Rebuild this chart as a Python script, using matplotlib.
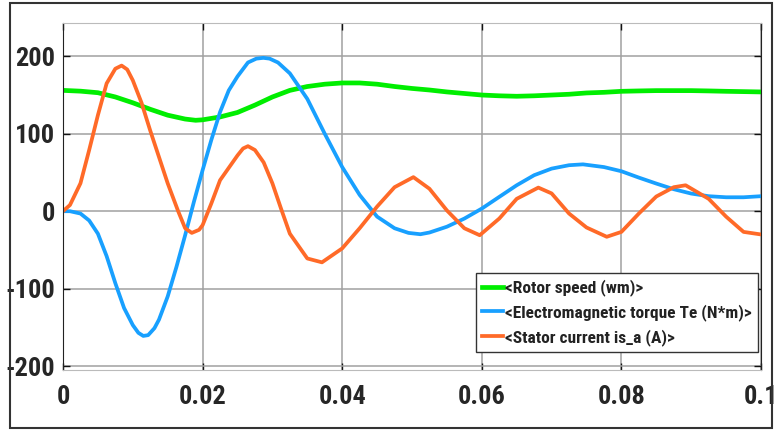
import matplotlib.pyplot as plt
from matplotlib.patches import Rectangle

# values
t_speed = [0, 0.0025, 0.005, 0.0075, 0.01, 0.0125, 0.015, 0.0175, 0.019, 0.02,
           0.0225, 0.025, 0.0275, 0.03, 0.0325, 0.035, 0.0375, 0.04, 0.0425, 0.045,
           0.0475, 0.05, 0.0525, 0.055, 0.0575, 0.06, 0.0625, 0.065, 0.0675, 0.07,
           0.0725, 0.075, 0.0775, 0.08, 0.0825, 0.085, 0.0875, 0.09, 0.0925, 0.095,
           0.0975, 0.1]
speed = [156, 155, 153, 147.5, 140, 131.6, 124, 119, 117.4, 118,
         121.7, 127.5, 137, 147.5, 156, 161, 164, 165.6, 165.6, 164,
         161, 158.5, 156.5, 154, 152, 150, 149, 148.4, 149, 150,
         151, 152.7, 153.5, 154.8, 155.3, 155.7, 155.7, 155.7, 155.3, 154.8,
         154.4, 154]

t_torque = [0, 0.001, 0.0025, 0.00375, 0.005, 0.00625, 0.0075, 0.00875, 0.01, 0.0108,
            0.0115, 0.0122, 0.0131, 0.01375, 0.015, 0.01625, 0.0175, 0.01875, 0.02, 0.02125,
            0.0225, 0.02375, 0.025, 0.0265, 0.0277, 0.0287, 0.0296, 0.0308, 0.0325, 0.035,
            0.0375, 0.04, 0.0425, 0.045, 0.0475, 0.0495, 0.0512, 0.0525, 0.055, 0.0575,
            0.06, 0.0625, 0.065, 0.0675, 0.07, 0.0725, 0.0745, 0.0775, 0.08, 0.0825,
            0.085, 0.0875, 0.09, 0.0925, 0.095, 0.0975, 0.1]
torque = [0, 0, -3, -12, -29, -58, -93, -125, -147, -157,
          -161, -160, -151, -140, -110, -72, -31, 12, 53, 92,
          128, 156, 174, 192, 197, 198, 197, 192, 178, 145,
          100, 57, 21, -7, -22, -28, -29.7, -27.5, -20, -9.5,
          3.4, 18.5, 33.5, 46.5, 55, 59.4, 60.5, 57, 51.6, 43.4,
          35.7, 28.4, 22.8, 19.4, 18, 18, 19.4]

t_current = [0, 0.001, 0.0025, 0.00375, 0.005, 0.00625, 0.0075, 0.0084, 0.0092, 0.01,
             0.01125, 0.0125, 0.01375, 0.015, 0.0165, 0.0175, 0.01845, 0.0195, 0.02, 0.02125,
             0.0225, 0.025, 0.0258, 0.0265, 0.0275, 0.02875, 0.03, 0.03125, 0.0325, 0.035,
             0.0371, 0.04, 0.0425, 0.045, 0.0475, 0.0502, 0.0525, 0.055, 0.0575, 0.0597,
             0.0625, 0.065, 0.0681, 0.07, 0.0725, 0.075, 0.0779, 0.08, 0.0825, 0.085,
             0.0875, 0.0892, 0.0925, 0.095, 0.0975, 0.1]
current = [0, 8, 36, 79, 124, 165, 184, 188, 183, 169,
           140, 104, 70, 36, 0, -22, -28, -24, -18, 10,
           40, 72, 81, 84, 79, 63, 36, 3, -29, -61,
           -66, -48, -22, 6, 31, 44, 29, 1, -22, -31,
           -9.5, 16, 30.5, 23, -3, -21, -33, -26.7, -3, 19,
           31, 33.5, 16, -7, -26.7, -30]

labels = ["<Rotor speed (wm)>", "<Electromagnetic torque Te (N*m)>", "<Stator current is_a (A)>"]
colors = ["#00ee00", "#18a0ff", "#ff6a28"]

plt.rcParams['font.family'] = ['Roboto Condensed', 'DejaVu Sans']
plt.rcParams['axes.unicode_minus'] = False

fig = plt.figure(figsize=(7.74, 4.32), dpi=100)
ax = fig.add_axes([63 / 774, 62 / 432, 698 / 774, 347 / 432])

# scope-style outer frame
fig.patches.append(Rectangle((10 / 774, 4 / 432), 762 / 774, 425 / 432,
                             transform=fig.transFigure, fill=False,
                             edgecolor="#333333", linewidth=1.5))

ax.plot(t_speed, speed, color=colors[0], lw=3.4, label=labels[0], solid_joinstyle="round")
ax.plot(t_torque, torque, color=colors[1], lw=2.7, label=labels[1], solid_joinstyle="round")
ax.plot(t_current, current, color=colors[2], lw=2.7, label=labels[2], solid_joinstyle="round")

ax.set_xlim(0, 0.1)
ax.set_ylim(-205, 243)
ax.set_xticks([0, 0.02, 0.04, 0.06, 0.08, 0.1])
ax.set_xticklabels(["0", "0.02", "0.04", "0.06", "0.08", "0.1"])
ax.set_yticks([-200, -100, 0, 100, 200])
ax.grid(True, color="#a0a0a0", lw=1.1)
ax.set_axisbelow(True)

ax.tick_params(direction="in", length=5, width=1, color="#111111",
               top=True, right=True, labelsize=19, labelcolor="#262626")
ax.tick_params(axis="x", pad=11)
ax.tick_params(axis="y", pad=6)
for lab in ax.get_xticklabels() + ax.get_yticklabels():
    lab.set_fontweight("bold")

ax.spines["left"].set_color("#222222")
ax.spines["right"].set_color("#222222")
ax.spines["top"].set_color("#bbbbbb")
ax.spines["bottom"].set_color("#bbbbbb")

leg = ax.legend(loc="lower right", bbox_to_anchor=(0.9957, 0.052), borderaxespad=0,
                prop={"weight": "bold", "size": 12.5},
                handlelength=1.2, handletextpad=0.15, labelspacing=0.45,
                borderpad=0.35, fancybox=False, framealpha=1)
leg.get_frame().set_edgecolor("#333333")
leg.get_frame().set_linewidth(1)
for txt in leg.get_texts():
    txt.set_color("#222222")

fig.savefig("out.png", dpi=100)
